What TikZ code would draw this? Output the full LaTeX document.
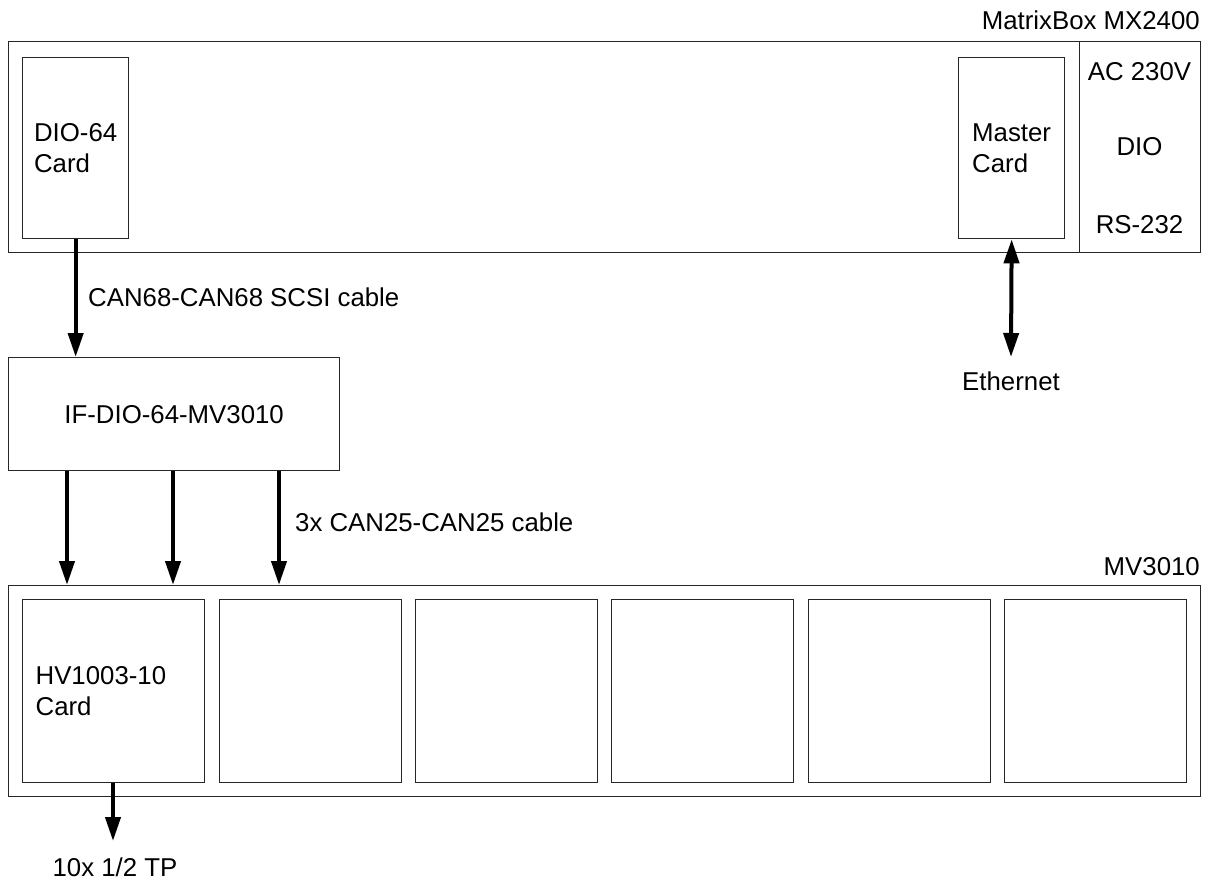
\documentclass[tikz,border=0pt]{standalone}
\usepackage{fontspec}
\setmainfont{Liberation Sans}
\usetikzlibrary{arrows.meta,calc}
\begin{document}
\begin{tikzpicture}[x=1pt,y=-1pt,
  font=\fontsize{25.8}{30.5}\selectfont,
  box/.style={draw=black!85, line width=1.3pt, rectangle, inner sep=0pt, anchor=north west},
  lbl/.style={inner sep=0pt},
  arr/.style={line width=4pt, -{Triangle[width=15pt,length=24pt]}},
  darr/.style={line width=4pt, {Triangle[width=15pt,length=24pt]}-{Triangle[width=15pt,length=24pt]}}
]
\useasboundingbox (0,0) rectangle (1208,884);

% MatrixBox
\node[box, minimum width=1192pt, minimum height=211pt] (mx) at (8,41) {};
\node[lbl, anchor=east] (mxl) at (1200,20) {MatrixBox MX2400};
\node[box, minimum width=121pt, minimum height=211pt] (pwr) at (1079,41) {};
\node[lbl] (ac) at (1139.5,72) {AC 230V};
\node[lbl] (dio) at (1139.5,147) {DIO};
\node[lbl] (rs) at (1139.5,225) {RS-232};
\node[box, minimum width=106pt, minimum height=181pt, align=left] (diocard) at (22,57) {DIO-64\\Card};
\node[box, minimum width=106pt, minimum height=181pt, align=left] (master) at (958,57) {Master\\Card};

% IF box
\node[box, minimum width=331pt, minimum height=113pt] (ifbox) at (8,357) {IF-DIO-64-MV3010};
\draw[arr] (diocard.south) -- (diocard.south |- ifbox.north);
\node[lbl, anchor=west] (canl) at (88,297) {CAN68-CAN68 SCSI cable};

% Ethernet
\coordinate (ethend) at (1011,357);
\draw[darr] (master.south) -- (ethend);
\node[lbl] (eth) at (1011,381) {Ethernet};

% MV3010
\node[box, minimum width=1192pt, minimum height=211pt] (mv) at (8,585) {};
\node[lbl, anchor=east] (mvl) at (1200,567) {MV3010};
\node[box, minimum height=183pt, text width=156pt, inner xsep=13pt, align=left] (hv) at (22,599) {HV1003-10\\Card};
\node[box, minimum width=182pt, minimum height=183pt] (c2) at (219,599) {};
\node[box, minimum width=182pt, minimum height=183pt] (c3) at (415,599) {};
\node[box, minimum width=182pt, minimum height=183pt] (c4) at (611,599) {};
\node[box, minimum width=182pt, minimum height=183pt] (c5) at (808,599) {};
\node[box, minimum width=182pt, minimum height=183pt] (c6) at (1004,599) {};

\draw[arr] (ifbox.south -| 67,0) -- (mv.north -| 67,0);
\draw[arr] (ifbox.south -| 173,0) -- (mv.north -| 173,0);
\draw[arr] (ifbox.south -| 279,0) -- (mv.north -| 279,0);
\node[lbl, anchor=west] (canl2) at (295,522) {3x CAN25-CAN25 cable};

% TP
\coordinate (tpend) at (113,841);
\draw[arr] (hv.south -| tpend) -- (tpend);
\node[lbl] (tp) at (115,867) {10x 1/2 TP};
\end{tikzpicture}
\end{document}
